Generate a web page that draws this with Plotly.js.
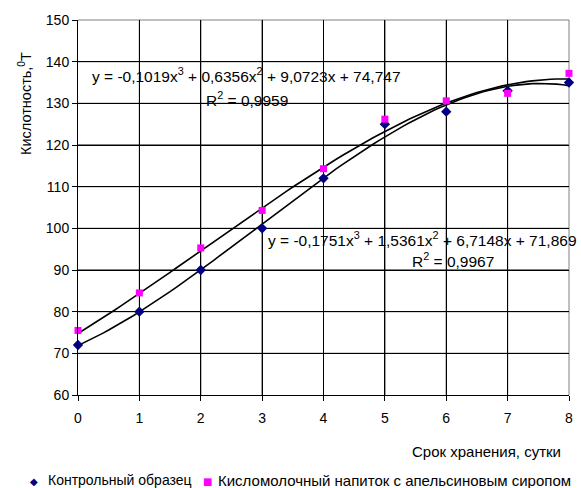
<!DOCTYPE html>
<html>
<head>
<meta charset="utf-8">
<script src="https://cdn.plot.ly/plotly-3.0.1.min.js"></script>
<style>html,body{margin:0;padding:0;background:#fff;}#chart{width:581px;height:488px;}</style>
</head>
<body>
<div id="chart"></div>
<script>
// Data
var days = [0, 1, 2, 3, 4, 5, 6, 7, 8];
var controlValues = [72, 80, 90, 100, 112, 125, 128, 133, 135];
var drinkValues = [75.5, 84.5, 95.3, 104.3, 114.3, 126.2, 130.6, 132.4, 137.2];
var seriesNames = ["Контрольный образец", "Кисломолочный напиток с апельсиновым сиропом"];
var seriesColors = ["#000080", "#FF00FF"];
var xTicks = [0, 1, 2, 3, 4, 5, 6, 7, 8];
var yTicks = [60, 70, 80, 90, 100, 110, 120, 130, 140, 150];
// Polynomial trendline coefficients shown on the chart (a3, a2, a1, a0)
var controlCoef = [-0.1751, 1.5361, 6.7148, 71.869];
var drinkCoef = [-0.1019, 0.6356, 9.0723, 74.747];
var controlEq = "y = -0,1751x<sup>3</sup> + 1,5361x<sup>2</sup> + 6,7148x + 71,869";
var controlR2 = "R<sup>2</sup> = 0,9967";
var drinkEq = "y = -0,1019x<sup>3</sup> + 0,6356x<sup>2</sup> + 9,0723x + 74,747";
var drinkR2 = "R<sup>2</sup> = 0,9959";

function trend(coef) {
  var xs = [], ys = [];
  for (var i = 0; i <= 80; i++) {
    var x = i / 10;
    xs.push(x);
    ys.push(((coef[0] * x + coef[1]) * x + coef[2]) * x + coef[3]);
  }
  return {x: xs, y: ys};
}
var tc = trend(controlCoef), td = trend(drinkCoef);

var font = "Arial, 'Liberation Sans', sans-serif";
var traces = [
  {x: tc.x, y: tc.y, mode: "lines", line: {color: "#000", width: 1.6}, showlegend: false, hoverinfo: "skip"},
  {x: td.x, y: td.y, mode: "lines", line: {color: "#000", width: 1.6}, showlegend: false, hoverinfo: "skip"},
  {x: days, y: controlValues, mode: "markers", name: seriesNames[0], cliponaxis: false,
   marker: {symbol: "diamond", color: seriesColors[0], size: 8}},
  {x: days, y: drinkValues, mode: "markers", name: seriesNames[1], cliponaxis: false,
   marker: {symbol: "square", color: seriesColors[1], size: 7}}
];

// grid lines drawn at the tick values
var shapes = [];
xTicks.slice(1, -1).forEach(function (v) {
  shapes.push({type: "line", xref: "x", yref: "paper", x0: v, x1: v, y0: 0, y1: 1,
               line: {color: "black", width: 1}, layer: "below"});
});
yTicks.slice(1, -1).forEach(function (v) {
  shapes.push({type: "line", xref: "paper", yref: "y", x0: 0, x1: 1, y0: v, y1: v,
               line: {color: "black", width: 1}, layer: "below"});
});
shapes.push({type: "line", xref: "paper", yref: "paper", x0: 0, x1: 1, y0: 1, y1: 1,
             line: {color: "#808080", width: 1}, layer: "below"});
shapes.push({type: "line", xref: "paper", yref: "paper", x0: 1, x1: 1, y0: 0, y1: 1,
             line: {color: "#808080", width: 1}, layer: "below"});

var layout = {
  width: 581, height: 488,
  margin: {l: 78, r: 12, t: 20, b: 93},
  paper_bgcolor: "#fff", plot_bgcolor: "#fff",
  font: {family: font, size: 15, color: "#000"},
  showlegend: false,
  xaxis: {range: [0, 8], tickvals: xTicks, ticks: "outside", ticklen: 5, tickcolor: "black",
          showgrid: true, gridcolor: "black", gridwidth: 1, zeroline: false,
          showline: true, linecolor: "black", linewidth: 1, ticklabelstandoff: 5,
          tickfont: {family: font, size: 14, color: "#000"}},
  yaxis: {range: [60, 150], tickvals: yTicks, ticks: "outside", ticklen: 5, tickcolor: "black",
          showgrid: true, gridcolor: "black", gridwidth: 1, zeroline: false,
          showline: true, linecolor: "black", linewidth: 1,
          tickfont: {family: font, size: 14, color: "#000"}},
  shapes: shapes,
  annotations: [
    {xref: "paper", yref: "paper", x: 1, y: 0, xshift: -6, yshift: -56, xanchor: "right", yanchor: "middle",
     text: "Срок хранения, сутки", showarrow: false, font: {family: font, size: 15}},
    {xref: "paper", yref: "paper", x: 0, y: 1, xshift: -53, yshift: -84, textangle: -90,
     xanchor: "center", yanchor: "middle",
     text: "Кислотность,<sup>0</sup>Т", showarrow: false, font: {family: font, size: 14.5}},
    {xref: "x", yref: "y", x: 0, y: 136.8, xshift: 12, xanchor: "left", yanchor: "middle",
     text: drinkEq, showarrow: false, font: {family: font, size: 15.5}},
    {xref: "x", yref: "y", x: 2, y: 131.0, xshift: 3, xanchor: "left", yanchor: "middle",
     text: drinkR2, showarrow: false, font: {family: font, size: 15.5}},
    {xref: "x", yref: "y", x: 3, y: 97.5, xshift: 4, xanchor: "left", yanchor: "middle",
     text: controlEq, showarrow: false, font: {family: font, size: 15.5}},
    {xref: "x", yref: "y", x: 5, y: 92.3, xshift: 25, xanchor: "left", yanchor: "middle",
     text: controlR2, showarrow: false, font: {family: font, size: 15.5}},
    // legend
    {xref: "paper", yref: "paper", x: 0, y: 0, xshift: -44, yshift: -86, xanchor: "center", yanchor: "middle",
     text: "◆", showarrow: false, font: {family: "DejaVu Sans", size: 10, color: seriesColors[0]}},
    {xref: "paper", yref: "paper", x: 0, y: 0, xshift: -32, yshift: -85, xanchor: "left", yanchor: "middle",
     text: seriesNames[0], showarrow: false, font: {family: font, size: 14}},
    {xref: "paper", yref: "paper", x: 0, y: 0, xshift: 129, yshift: -86, xanchor: "center", yanchor: "middle",
     text: "■", showarrow: false, font: {family: "DejaVu Sans", size: 10, color: seriesColors[1]}},
    {xref: "paper", yref: "paper", x: 0, y: 0, xshift: 138, yshift: -85, xanchor: "left", yanchor: "middle",
     text: seriesNames[1], showarrow: false, font: {family: font, size: 15}}
  ]
};

Plotly.newPlot("chart", traces, layout, {staticPlot: true, displayModeBar: false});
</script>
</body>
</html>
